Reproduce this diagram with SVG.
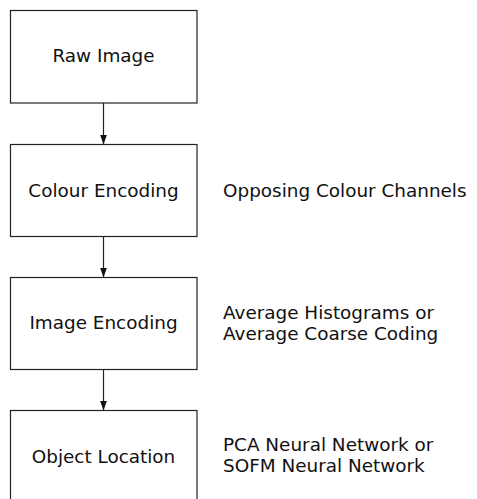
<svg xmlns="http://www.w3.org/2000/svg" width="477" height="499" viewBox="0 0 477 499">
  <style>
    .box { fill: #ffffff; stroke: #222222; stroke-width: 1.2; }
    .lbl { font-family: "DejaVu Sans", sans-serif; font-size: 18.4px; fill: #111111; }
    .mid { text-anchor: middle; }
    .conn { stroke: #222222; stroke-width: 1.2; fill: none; marker-end: url(#arr); }
  </style>
  <defs>
    <marker id="arr" markerWidth="10" markerHeight="10" refX="10" refY="5" orient="auto" markerUnits="userSpaceOnUse">
      <path d="M0,1.5 L10,5 L0,8.5 Z" fill="#111111"/>
    </marker>
  </defs>
  <rect width="477" height="499" fill="#ffffff"/>
  <g id="connectors">
    <line class="conn" x1="103.5" y1="103" x2="103.5" y2="144.5"/>
    <line class="conn" x1="103.5" y1="236.5" x2="103.5" y2="277.5"/>
    <line class="conn" x1="103.5" y1="369.5" x2="103.5" y2="410.5"/>
  </g>
  <g id="raw-image">
    <rect class="box" x="10.5" y="10.5" width="186.5" height="92.5"/>
    <text class="lbl mid" x="103.5" y="62">Raw Image</text>
  </g>
  <g id="colour-encoding">
    <rect class="box" x="10.5" y="144.5" width="186.5" height="92"/>
    <text class="lbl mid" x="103.5" y="197">Colour Encoding</text>
  </g>
  <g id="image-encoding">
    <rect class="box" x="10.5" y="277.5" width="186.5" height="92"/>
    <text class="lbl mid" x="103.5" y="329">Image Encoding</text>
  </g>
  <g id="object-location">
    <rect class="box" x="10.5" y="410.5" width="186.5" height="95"/>
    <text class="lbl mid" x="103.5" y="463">Object Location</text>
  </g>
  <g id="side-labels">
    <text class="lbl" x="223" y="197">Opposing Colour Channels</text>
    <text class="lbl" x="223" y="319">Average Histograms or</text>
    <text class="lbl" x="223" y="340">Average Coarse Coding</text>
    <text class="lbl" x="223" y="451">PCA Neural Network or</text>
    <text class="lbl" x="223" y="472">SOFM Neural Network</text>
  </g>
</svg>
